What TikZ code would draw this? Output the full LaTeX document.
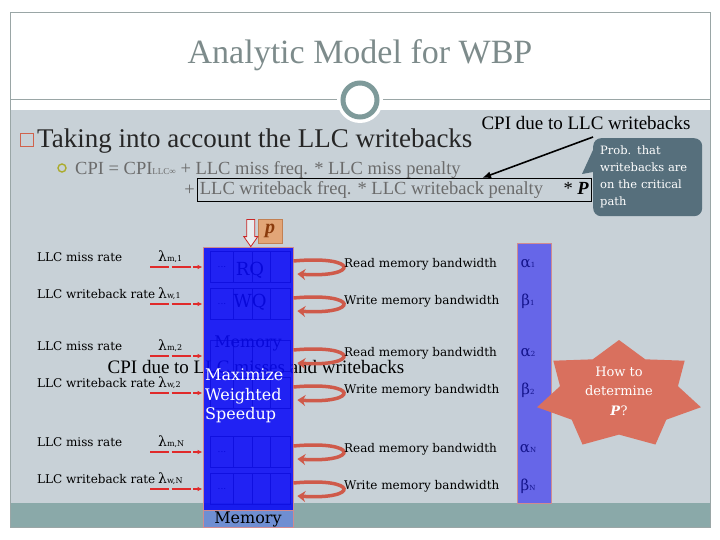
\documentclass[tikz,border=0pt]{standalone}
\usepackage{fontspec}
\setmainfont{Liberation Serif}
\newfontfamily\dvs{DejaVu Serif}
\usetikzlibrary{arrows.meta,positioning,calc}
\definecolor{Slide}{HTML}{C8D1D7}
\definecolor{Band}{HTML}{8AA9A9}
\definecolor{Rule}{HTML}{9AA6A6}
\definecolor{Ring}{HTML}{7E9A9A}
\definecolor{Title}{HTML}{7D8B8B}
\definecolor{Formula}{HTML}{6B6B6B}
\definecolor{Bullet}{HTML}{D0624C}
\definecolor{Olive}{HTML}{ABAB2E}
\definecolor{Callout}{HTML}{566F7C}
\definecolor{Queue}{HTML}{0A0AF8}
\definecolor{Edge}{HTML}{D08A90}
\definecolor{MemLbl}{HTML}{6F8ED2}
\definecolor{Bar}{HTML}{6666E8}
\definecolor{Greek}{HTML}{14148C}
\definecolor{Req}{HTML}{E02A2A}
\definecolor{Loop}{HTML}{CF5A4A}
\definecolor{Star}{HTML}{D9705E}
\definecolor{Pfill}{HTML}{E2A577}
\definecolor{Pbrown}{HTML}{8A3A0C}
\newcommand{\fsz}[2]{\fontsize{#1}{#2}\selectfont}

\begin{document}
\begin{tikzpicture}[x=1pt,y=-1pt,
    lbl/.style={anchor=west,inner sep=0,font=\dvs\fsz{12}{14}},
    greek/.style={inner sep=0,text=Greek,font=\dvs\fsz{15}{15}},
    qtxt/.style={inner sep=0,text=black,font=\dvs\fsz{18}{18}},
    cell/.style={draw=black!75,line width=.8pt},
    inarr/.style={-{Latex[length=5pt,width=4.5pt]},Req,line width=1.6pt,dash pattern=on 19pt off 2.5pt},
    retarr/.style={-{Stealth[length=8pt,width=11pt]},Loop,line width=3.5pt},
    tallbox/.style={draw=Edge,line width=.8pt,inner sep=0}
  ]
  \useasboundingbox (0,0) rectangle (720,540);
  \fill[Slide] (10,110) rectangle (710,503);
  \fill[Band] (10,503) rectangle (710,527);
  \draw[Rule] (10,12) rectangle (710,527);
  \draw[Rule,line width=1pt] (10,100) -- (710,100);
  \fill[white] (360,100) circle (23);
  \node[circle,draw=Ring,line width=5pt,fill=white,minimum size=34] (ring) at (360,100) {};
  \node[font=\fsz{34}{34},text=Title] (title) at (360,55) {Analytic Model for WBP};

  \node[draw=Bullet,line width=1.3pt,minimum size=13,inner sep=0] (sq) at (27,140) {};
  \node[anchor=base west,inner sep=0,font=\fsz{27}{27},text=black!85] (point) at (37,148) {Taking into account the LLC writebacks};
  \node[circle,draw=Olive,line width=1.4pt,minimum size=8,inner sep=0] (ob) at (62,168) {};
  \node[anchor=base west,inner sep=0,font=\fsz{18.5}{18.5},text=Formula] (cpi) at (75,175) {CPI = CPI{\fsz{9}{9}LLC∞} + LLC miss freq. * LLC miss penalty};
  \node[anchor=north west,draw,line width=.8pt,text=Formula,font=\fsz{18.5}{18.5},inner xsep=2.5,inner ysep=0,minimum height=23] (wbbox) at (197,178)
    {\hbox to 389pt{LLC writeback freq. * LLC writeback penalty\hfill{\color{black}*~\textbf{\textit{P}}}}};
  \node[anchor=base east,inner sep=0,font=\fsz{18.5}{18.5},text=Formula] (plus) at ($(wbbox.west)+(-2,6)$) {+};
  \node[font=\fsz{19}{19}] (cpiwb) at (586,123) {CPI due to LLC writebacks};
  \coordinate (wbtail) at (593,137);
  \draw[-{Latex[length=9pt,width=7pt]},line width=1.6pt] (wbtail) -- ($(wbbox.north west)!0.722!(wbbox.north east)$);
  \node[fill=Callout,rounded corners=8pt,text=white,font=\dvs\fsz{11.5}{17},align=left,anchor=north west,
    minimum height=78,inner xsep=7,text width=95] (prob) at (593,138) {Prob. that\\writebacks are\\on the critical\\path};
  \fill[Callout] ($(prob.north west)+(0,12)$) -- ($(prob.north west)+(-11,36)$) -- ($(prob.north west)+(0,34)$) -- cycle;

  \foreach \y in {267,304,356,393,452,489}{
    \draw[cell] (210,\y-15.5) rectangle (290,\y+15.5);
    \foreach \x in {233,252,270}
      \draw[cell] (\x,\y-15.5) -- (\x,\y+15.5);
  }
  \foreach \y in {267,304,452,489}
    \node[inner sep=0,font=\dvs\fsz{9}{9}] (dots\y) at (222,\y) {...};
  \node[qtxt] (rq) at (250,270) {RQ};
  \node[qtxt] (wq) at (250,302) {WQ};
  \node[qtxt,font=\dvs\fsz{16}{16}] (memtxt) at (248,343) {Memory};
  \node[font=\fsz{19}{19}] (cpimiss) at (256,367) {CPI due to LLC misses and writebacks};
  \node[tallbox,fill=Queue,fill opacity=0.88,minimum width=90,minimum height=263] (membox) at (248,378.5) {};
  \node[tallbox,fill=MemLbl,minimum width=90,minimum height=17,font=\dvs\fsz{16}{16},below=0pt of membox] (memlbl) {Memory};
  \node[anchor=north west,align=left,inner sep=0,text=white,font=\dvs\fsz{16}{19.5}] (maxws) at (205,369) {Maximize\\Weighted\\Speedup};

  \node[draw=Pbrown!35!Pfill,fill=Pfill,minimum size=24,inner sep=0,font=\fsz{20}{20}\bfseries\itshape,text=Pbrown] (pbox) at (270,231) {p};
  \coordinate (ptip) at ($(pbox.west |- membox.north)+(-7,0)$);
  \draw[Req!90!black,fill=white!60!Slide,line width=.8pt] (ptip) -- ++(-7,-10) -- ++(3,0) -- ++(0,-17) -- ++(8,0) -- ++(0,17) -- ++(3,0) -- cycle;

  \node[tallbox,fill=Bar,minimum width=34,minimum height=260] (bar) at (534,373) {};

  \foreach \i/\y/\rate/\lam/\bw/\gr/\sub in {1/267/miss/m/Read/α/1,2/304/writeback/w/Write/β/1,
      3/356/miss/m/Read/α/2,4/393/writeback/w/Write/β/2,5/452/miss/m/Read/α/N,6/489/writeback/w/Write/β/N}{
    \node[lbl] (rate\i) at (37,\y-10) {LLC \rate\ rate};
    \node[lbl,font=\dvs\fsz{14}{14}] (lam\i) at (158,\y-10) {λ{\fsz{8}{8}\lam,\sub}};
    \coordinate (src\i) at (150,\y);
    \draw[inarr] (src\i) -- (src\i -| membox.west);
    \draw[retarr] ($(membox.east |- src\i)+(0,-6)$) .. controls +(66,-6) and +(62,4) .. ($(membox.east |- src\i)+(4,7)$);
    \node[lbl] (bw\i) at (344,\y-3) {\bw\ memory bandwidth};
    \node[greek] (gr\i) at (528,\y-3) {\gr{\fsz{7}{7}\sub}};
  }

  \coordinate (starc) at (619,395);
  \fill[Star,shift={(starc)}] plot[variable=\k,samples at={0,...,13}]
    ({(1-0.28*mod(\k,2))*84*cos(90+\k*180/7)},{-(1-0.28*mod(\k,2))*55*sin(90+\k*180/7)}) -- cycle;
  \node[text=white,align=center,font=\dvs\fsz{13}{19.5}] (howto) at ($(starc)+(0,-4)$) {How to\\determine\\\textbf{\textit{P}}?};
\end{tikzpicture}
\end{document}
